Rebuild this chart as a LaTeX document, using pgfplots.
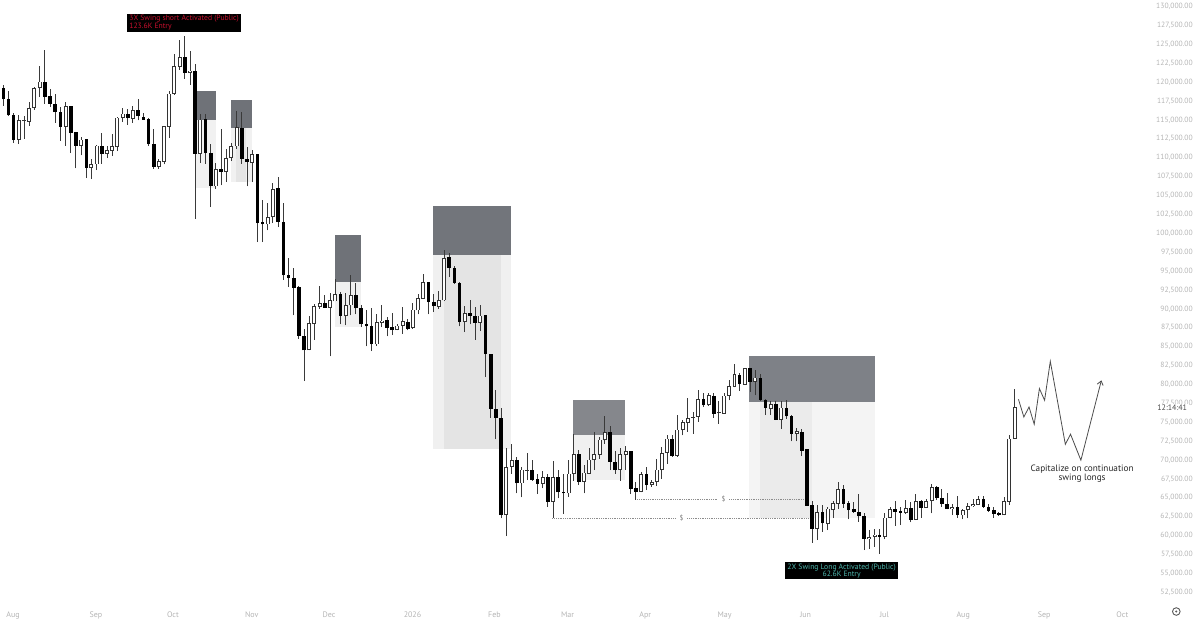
\documentclass[border=0pt]{standalone}
\usepackage{pgfplots}
\usepackage{pgfplotstable}
\usepackage{fontspec}
\usetikzlibrary{arrows.meta}
\pgfplotsset{compat=1.18}
\setmainfont{PT Sans}
\definecolor{tk}{HTML}{B4B4B4}
\definecolor{wick}{HTML}{3A3A3A}
\definecolor{dkA}{HTML}{6F7278}
\definecolor{dkB}{HTML}{72757B}
\definecolor{dkC}{HTML}{85878C}
\definecolor{dkD}{HTML}{7E8187}
\definecolor{redt}{HTML}{C8102E}
\definecolor{grnt}{HTML}{4DB6AC}
\pgfplotstableread{
i h bh bl l
0 119640 119290 117750 116860
1 118800 117790 115590 115500
2 115890 115670 112410 111930
8 124310 120080 118100 117130
9 119110 118140 117170 116690
10 118450 117170 116030 114620
11 116690 116070 114130 112280
13 116910 116860 113250 110610
14 113470 113380 111580 108580
16 112500 112460 108670 107300
19 113250 111620 110470 109200
24 116470 115810 115230 114350
26 117790 116340 115500 114930
27 115940 115450 115060 115010
28 115230 115100 111800 111530
29 113820 111840 108840 108530
35 126070 123340 121180 120480
37 122420 121490 110520 101920
39 115810 115150 110610 109200
40 111840 110610 106290 103470
42 113820 108530 108140 106330
46 116030 114000 109860 109200
47 111400 109860 109420 106200
49 110520 110470 101350 98840
50 104350 101440 101180 98840
53 107390 105940 101480 100820
54 103950 101480 94440 93870
55 96720 94480 94130 92890
56 95450 94130 92810 89150
57 92980 92890 86460 86070
58 87390 86460 84520 80460
62 91880 90770 90160 90160
65 92230 91920 89050 87960
68 93420 91830 90070 89280
69 90470 90110 87960 87600
70 89900 88050 87690 85050
71 90160 87690 85310 84430
74 88920 88490 87520 86370
75 89450 87560 87200 86540
78 88720 88230 87390 87160
82 93600 93600 90910 89280
83 91920 90910 90340 89580
86 97340 96810 95400 94210
87 95730 95400 93470 93340
88 93510 93470 88260 87690
90 91130 89410 89050 87960
91 90250 89110 88180 85930
93 89150 89150 84020 80990
94 84080 84080 76760 75570
95 79230 76810 75620 72750
96 76850 75620 62710 62270
99 70410 69980 66900 65580
102 69980 68750 67330 67240
103 68220 67430 66850 65480
105 68220 67770 64470 63800
107 68750 67770 65710 64920
108 68090 65790 65580 62840
111 71390 70770 67110 66670
117 74470 73720 69750 68660
118 71210 69750 68660 68220
121 71210 71210 66140 65480
122 67110 66240 65790 64780
124 69090 68090 66670 66010
129 73280 72850 70510 70410
135 78840 78040 77250 77020
137 78840 78530 76150 75570
142 81570 81310 80030 79140
144 82230 82140 80330 79010
146 81440 80910 78000 77820
147 78130 78000 76890 75930
149 77820 77380 75360 75270
151 77910 76890 75790 75490
152 75930 75830 73450 72480
154 74170 73770 71210 70510
155 71420 71420 63940 63900
156 64600 63990 60860 59050
158 64030 63140 61610 60500
162 66670 66140 64250 63720
163 64600 64330 63370 62140
164 64470 63460 63140 63010
165 65480 63140 62570 61820
166 62930 62570 59530 58080
169 60940 60100 59830 57630
172 64600 63460 63140 61290
173 63800 63230 63060 61380
175 64470 63670 62050 61740
177 64780 64600 63720 62350
180 66540 66450 64950 64690
181 66110 64950 64160 63800
182 65580 64250 63500 63460
184 65260 63800 62710 62400
189 65310 64820 63800 63720
190 64160 63800 63280 63140
191 63800 63330 62840 62400
192 63140 62930 62710 62620
}\downc
\pgfplotstableread{
i h bh bl l
3 115590 114930 112370 111800
4 115500 114930 114840 112500
5 117440 116560 114790 114260
6 119420 119200 116560 116340
7 122200 120080 119200 118010
12 117350 116860 114130 111580
15 112810 112410 111530 110300
17 109770 109150 108670 107170
18 111750 111620 109110 108360
20 111530 111050 110470 109950
21 113160 111490 110910 110210
22 115370 115320 111400 110870
23 116600 115850 115280 114700
25 116910 116340 115190 114660
30 109770 109550 108840 108530
31 114260 114180 109460 109110
32 118800 118490 114130 112590
33 123740 122110 118450 118320
34 125590 123340 122060 121670
36 124090 121540 121180 119680
38 115810 115060 110520 109280
41 109240 108530 106200 105890
43 111180 109990 108090 106770
44 111930 111580 109990 109550
45 116250 114040 111490 111180
48 111090 110470 109370 106770
51 103950 102140 101180 100380
52 106600 105900 102140 101350
59 89050 88130 84520 84520
60 90600 90380 88050 85930
61 92980 90770 90300 90030
63 92100 91130 90160 83730
64 93990 91920 91000 91000
66 92100 90560 89050 87830
67 94440 91880 90470 89150
72 89280 88220 85310 85090
73 90470 88450 88130 87600
76 87960 87790 87200 87160
77 90250 88400 87790 86730
79 90830 89900 87430 87390
80 91920 91390 89810 89280
81 94660 93600 91300 91300
84 92360 91220 90300 90030
85 97830 96770 91130 91040
89 90430 89450 88260 86940
92 90470 89110 88180 87070
97 71660 69100 62710 59930
98 72090 69980 69100 68220
100 69090 68750 66900 65050
101 70960 68720 68590 67330
104 68520 67770 66850 66240
106 69890 67770 64470 62400
109 69980 68220 65580 65130
110 73420 70770 68130 67240
112 69410 68350 67110 65580
113 71660 70070 68220 68130
114 73720 70770 69980 68660
115 73060 72710 70730 70200
116 75790 73720 72620 72180
119 71660 70770 68660 67240
120 71830 71210 70730 68750
123 68430 68090 65790 65710
125 67330 67110 66670 66450
126 70200 68750 67110 66540
127 71740 70940 68660 67560
128 73280 72850 70940 69540
130 75930 74040 70510 70410
131 75360 75000 73940 73280
132 78220 75570 74910 73720
133 76360 75700 75570 73510
134 79330 78040 75700 75040
136 78880 78570 77250 77120
138 77820 76320 76190 74830
139 78880 78530 76150 76120
140 80550 79760 78530 77910
141 82670 81350 79670 79630
143 82230 82140 79990 79960
145 81970 80910 80330 78570
148 77780 77380 76810 75930
150 77820 76940 75360 74170
153 74250 73810 73510 72480
157 64120 63140 60860 59400
159 63800 63590 61560 60720
160 64560 64330 63370 62310
161 67110 66140 64250 63590
167 60720 59830 59530 58210
168 60940 60150 59830 58510
170 62930 62400 59830 59490
171 63800 63460 62350 62270
174 64690 63670 63010 62840
176 65480 64560 62090 62050
178 64820 64560 63720 63670
179 66770 66370 64560 62930
183 64250 63800 63460 62710
185 63590 63370 62670 62140
186 64330 63900 63370 62270
187 64820 64200 63860 63800
188 65260 64820 64120 64030
193 65050 64600 62710 62670
194 73280 72850 64470 64030
195 79360 77020 72850 72820
}\upc
\begin{document}
\begin{tikzpicture}
\begin{axis}[
  scale only axis, width=1200pt, height=624pt,
  xmin=-0.443, xmax=230.77, ymin=48297, ymax=130790,
  clip=false,
  axis line style={draw=none},
  major tick length=0pt, tick style={draw=none},
  ytick={52500,55000,...,130000},
  yticklabel pos=right,
  yticklabel style={anchor=east, xshift=-3.8pt, text=tk, font=\fontsize{7.6}{9}\selectfont,
    /pgf/number format/.cd, fixed, fixed zerofill, precision=2, 1000 sep={,}, assume math mode=true},
  scaled y ticks=false,
  xtick={1.87,17.86,32.7,47.9,62.8,78.9,94.7,108.8,123.8,139.1,154.7,169.9,185.1,200.7,215.8},
  xticklabels={Aug,Sep,Oct,Nov,Dec,2026,Feb,Mar,Apr,May,Jun,Jul,Aug,Sep,Oct},
  xticklabel style={anchor=center, yshift=9pt, text=tk, font=\fontsize{8}{9}\selectfont},
]
% zones
\def\zone#1#2#3#4#5{\addplot[draw=none, fill=#5, forget plot] coordinates {(#1,#3)(#2,#3)(#2,#4)(#1,#4)} -- cycle;}
\zone{37.13}{40.98}{114930}{105980}{black!5.5}
\zone{43.87}{47.92}{113870}{106770}{black!5.5}
\zone{44.84}{46.76}{113870}{106770}{black!10}
\zone{63.91}{68.98}{93550}{87600}{black!6}
\zone{82.85}{97.96}{97170}{71470}{black!6}
\zone{84.97}{96.03}{97170}{71470}{black!10.5}
\zone{109.9}{119.92}{73380}{67330}{black!6}
\zone{143.87}{168.01}{77740}{62270}{black!4.5}
\zone{145.86}{155.95}{77740}{62270}{black!8}
\zone{37.13}{40.98}{118800}{114930}{dkA}
\zone{43.87}{47.92}{117660}{113870}{dkA}
\zone{63.91}{68.98}{99720}{93550}{dkA}
\zone{82.85}{97.96}{103560}{97170}{dkB}
\zone{109.9}{119.92}{77910}{73380}{dkC}
\zone{143.87}{168.01}{83770}{77740}{dkD}
% dotted levels
\addplot[black!45, densely dotted, line width=0.8pt, forget plot] coordinates {(121.9,64820)(137.8,64820)};
\addplot[black!45, densely dotted, line width=0.8pt, forget plot] coordinates {(140,64820)(155.6,64820)};
\addplot[black!45, densely dotted, line width=0.8pt, forget plot] coordinates {(105.9,62310)(129.7,62310)};
\addplot[black!45, densely dotted, line width=0.8pt, forget plot] coordinates {(131.9,62310)(155.95,62310)};
\node[text=black!50, font=\fontsize{7}{8}\selectfont] at (axis cs:138.9,64820) {\$};
\node[text=black!50, font=\fontsize{7}{8}\selectfont] at (axis cs:130.8,62310) {\$};
% candles: wicks, then bodies
\addplot[draw=none, mark=none, forget plot, error bars/.cd, y dir=plus, y explicit, error mark=none,
  error bar style={line width=1pt, wick}] table[x=i, y=l, y error plus expr=\thisrow{h}-\thisrow{l}] {\downc};
\addplot[draw=none, mark=none, forget plot, error bars/.cd, y dir=plus, y explicit, error mark=none,
  error bar style={line width=1pt, wick}] table[x=i, y=l, y error plus expr=\thisrow{h}-\thisrow{l}] {\upc};
\addplot[draw=none, mark=none, forget plot, error bars/.cd, y dir=plus, y explicit, error mark=none,
  error bar style={line width=3.6pt, black}] table[x=i, y=bl, y error plus expr=\thisrow{bh}-\thisrow{bl}] {\downc};
\addplot[draw=none, mark=none, forget plot, error bars/.cd, y dir=plus, y explicit, error mark=none,
  error bar style={line width=4pt, black!80}] table[x=i, y=bl, y error plus expr=\thisrow{bh}-\thisrow{bl}] {\upc};
\addplot[draw=none, mark=none, forget plot, error bars/.cd, y dir=plus, y explicit, error mark=none,
  error bar style={line width=2pt, white}] table[x=i, y expr=\thisrow{bl}+110, y error plus expr={max(\thisrow{bh}-\thisrow{bl}-220,0)}] {\upc};
% projected path
\addplot[black!70, line width=0.8pt, -{Straight Barb[length=4pt,width=6pt]}, forget plot] coordinates {
(195.76,78040)(196.8,75700)(197.8,77020)(198.8,74740)(199.8,79460)(200.8,77910)(201.9,83070)(204.8,72080)(205.8,73420)(207.8,69980)(211.75,80550)};
% annotations
\node[align=center, text=black!85, font=\fontsize{9.2}{9.3}\selectfont] at (axis cs:208.03,68200) {Capitalize on continuation\\swing longs};
\node[fill=black, text=redt, inner sep=1pt, minimum width=113.7pt, minimum height=17.7pt, align=left, font=\fontsize{7.7}{7.7}\selectfont] at (axis cs:34.85,127870) {3X Swing short Activated (Public)\\123.6K Entry};
\node[fill=black, text=grnt, inner sep=1pt, minimum width=112.7pt, minimum height=17pt, align=center, font=\fontsize{7.7}{7.7}\selectfont] at (axis cs:161.66,55330) {2X Swing Long Activated (Public)\\62.6K Entry};
\node[fill=white, text=black!70, inner sep=1pt, font=\fontsize{8}{9}\selectfont] at (axis cs:225.4,76950) {12:14:41};
\draw[black!65, line width=0.9pt] (axis cs:226.2,49960) circle[radius=3.8pt];
\fill[black!65] (axis cs:226.2,49960) circle[radius=1.1pt];
\end{axis}
\end{tikzpicture}
\end{document}
